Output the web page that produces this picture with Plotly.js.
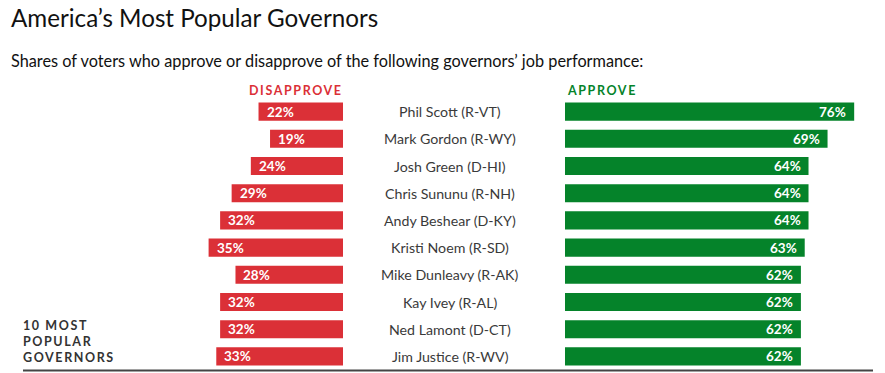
<!DOCTYPE html>
<html>
<head>
<meta charset="utf-8">
<script src="https://cdn.plot.ly/plotly-3.0.1.min.js"></script>
<style>
html,body{margin:0;padding:0;background:#fff;}
#chart{width:885px;height:373px;}
g.annotation[data-index="2"] text, g.annotation[data-index="3"] text,
g.annotation[data-index="4"] text, g.annotation[data-index="5"] text,
g.annotation[data-index="6"] text { letter-spacing:1.6px; }
</style>
</head>
<body>
<div id="chart"></div>
<script>
const names = ["Phil Scott (R-VT)","Mark Gordon (R-WY)","Josh Green (D-HI)","Chris Sununu (R-NH)","Andy Beshear (D-KY)","Kristi Noem (R-SD)","Mike Dunleavy (R-AK)","Kay Ivey (R-AL)","Ned Lamont (D-CT)","Jim Justice (R-WV)"];
const disapprove = [22,19,24,29,32,35,28,32,32,33];
const approve = [76,69,64,64,64,63,62,62,62,62];
const titleText = "America’s Most Popular Governors";
const subtitleText = "Shares of voters who approve or disapprove of the following governors’ job performance:";
const groupLabel = ["10 MOST","POPULAR","GOVERNORS"];

const RED = "#db3037", GREEN = "#05832a";
const W = 885, H = 373;
const plotTop = 98.4, plotBottom = 369.6, plotH = plotBottom - plotTop;
const py = px => (plotBottom - px) / plotH;
const FONT = "Lato, 'Open Sans', sans-serif";

const traces = [
  {type:"bar", orientation:"h", y:names, x:disapprove, xaxis:"x", yaxis:"y",
   marker:{color:RED}, hoverinfo:"skip", showlegend:false},
  {type:"bar", orientation:"h", y:names, x:approve, xaxis:"x2", yaxis:"y",
   marker:{color:GREEN}, hoverinfo:"skip", showlegend:false}
];

const ann = [
  {text:titleText, xref:"paper", yref:"paper", x:9/W, y:py(18.5), xanchor:"left", yanchor:"middle",
   showarrow:false, font:{family:FONT, size:24.2, color:"#111"}},
  {text:subtitleText, xref:"paper", yref:"paper", x:9/W, y:py(61.5), xanchor:"left", yanchor:"middle",
   showarrow:false, font:{family:FONT, size:16.3, color:"#111"}},
  {text:"<b>DISAPPROVE</b>", xref:"paper", yref:"paper", x:345/W, y:py(90.5), xanchor:"right", yanchor:"middle", align:"right",
   showarrow:false, font:{family:FONT, size:12.5, color:RED}},
  {text:"<b>APPROVE</b>", xref:"paper", yref:"paper", x:565/W, y:py(90.5), xanchor:"left", yanchor:"middle", align:"left",
   showarrow:false, font:{family:FONT, size:12.5, color:GREEN}}
];
const gy = [325, 341.5, 357.5];
groupLabel.forEach((t,i)=>ann.push({text:"<b>"+t+"</b>", xref:"paper", yref:"paper", x:21/W, y:py(gy[i]),
  xanchor:"left", yanchor:"middle", align:"left", showarrow:false, font:{family:FONT, size:12.5, color:"#333"}}));

names.forEach((n,i)=>{
  ann.push({text:n, xref:"paper", yref:"y", x:450/W, y:n, xanchor:"center", yanchor:"middle",
    showarrow:false, font:{family:FONT, size:14.2, color:"#3a3a3a"}});
  ann.push({text:"<b>"+disapprove[i]+"%</b>", xref:"x", yref:"y", x:disapprove[i], y:n, xanchor:"left", yanchor:"middle",
    xshift:6, showarrow:false, font:{family:FONT, size:13.5, color:"#fff"}});
  ann.push({text:"<b>"+approve[i]+"%</b>", xref:"x2", yref:"y", x:approve[i], y:n, xanchor:"right", yanchor:"middle",
    xshift:-6, showarrow:false, font:{family:FONT, size:13.5, color:"#fff"}});
});

const layout = {
  width:W, height:H, margin:{l:0, r:0, t:plotTop, b:H-plotBottom, pad:0},
  paper_bgcolor:"#fff", plot_bgcolor:"#fff", bargap:0.336,
  xaxis:{domain:[200/W, 343/W], range:[143/3.84, 0], visible:false, fixedrange:true},
  xaxis2:{domain:[565/W, 1], range:[0, 320/3.805], visible:false, fixedrange:true},
  yaxis:{type:"category", categoryorder:"array", categoryarray:names, range:[9.5,-0.5], visible:false, fixedrange:true},
  shapes:[{type:"line", xref:"paper", yref:"paper", x0:23/W, x1:873/W, y0:py(370), y1:py(370),
    line:{color:"#444", width:2}}],
  annotations:ann
};
Plotly.newPlot("chart", traces, layout, {displayModeBar:false, staticPlot:true});
</script>
</body>
</html>
